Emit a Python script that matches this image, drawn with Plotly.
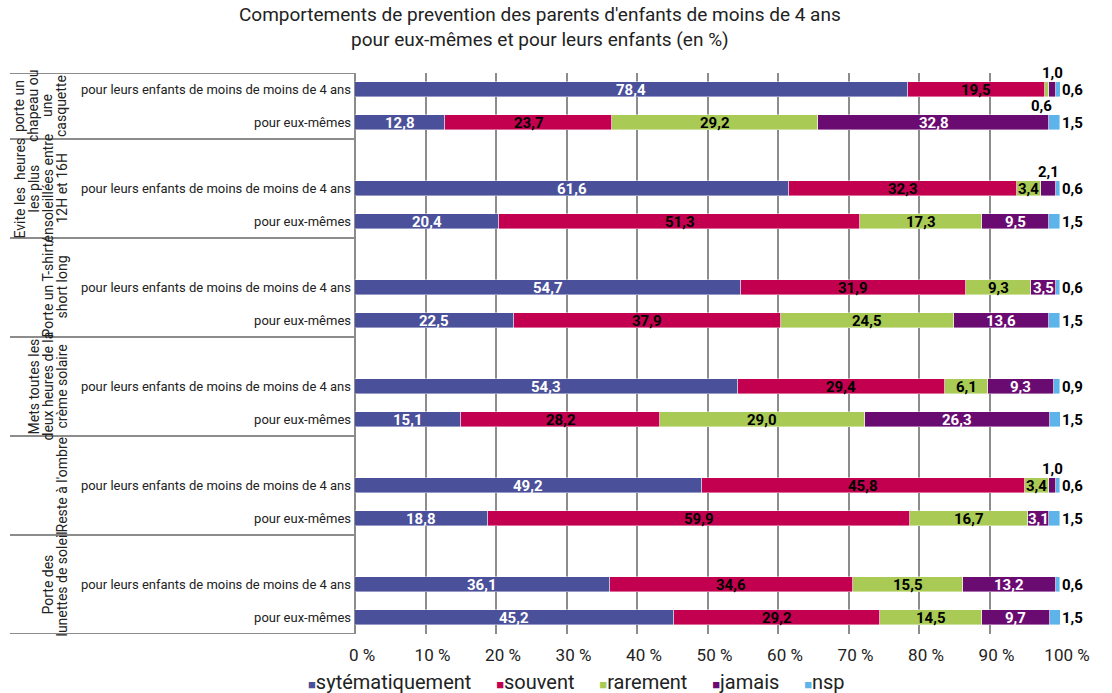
import plotly.graph_objects as go

# Behaviour groups (left, rotated) and the two rows inside each group
groups = [
    "porte un<br>chapeau ou<br>une<br>casquette",
    "Evite les  heures<br>les plus<br>ensoleillées entre<br>12H et 16H",
    "Porte un T-shirt/<br>short long",
    "Mets toutes les<br>deux heures de la<br>crème solaire",
    "Reste à l'ombre",
    "Porte des<br>lunettes de soleil",
]
row_labels = ["pour leurs enfants de moins de moins de 4 ans", "pour eux-mêmes"]

# Percentages, row order: (enfants, eux-mêmes) for each group
systematiquement = [78.4, 12.8, 61.6, 20.4, 54.7, 22.5, 54.3, 15.1, 49.2, 18.8, 36.1, 45.2]
souvent = [19.5, 23.7, 32.3, 51.3, 31.9, 37.9, 29.4, 28.2, 45.8, 59.9, 34.6, 29.2]
rarement = [0.6, 29.2, 3.4, 17.3, 9.3, 24.5, 6.1, 29.0, 3.4, 16.7, 15.5, 14.5]
jamais = [1.0, 32.8, 2.1, 9.5, 3.5, 13.6, 9.3, 26.3, 1.0, 3.1, 13.2, 9.7]
nsp = [0.6, 1.5, 0.6, 1.5, 0.6, 1.5, 0.9, 1.5, 0.6, 1.5, 0.6, 1.5]

series_names = ["sytématiquement", "souvent", "rarement", "jamais", "nsp"]
series_values = [systematiquement, souvent, rarement, jamais, nsp]
series_colors = ["#4A509A", "#C2004F", "#A9CB55", "#6A0B72", "#5DB4EA"]
label_colors = ["white", "black", "black", "white", "black"]

title_text = ("Comportements de prevention des parents d'enfants de moins de 4 ans<br>"
              "pour eux-mêmes et pour leurs enfants (en %)")

# Row slots: an empty slot separates consecutive groups
slots, tick_vals, tick_text, group_bounds, group_centers = [], [], [], [-0.5], []
pos = 0
for g in range(len(groups)):
    if g > 0:
        pos += 1
    for r in range(len(row_labels)):
        slots.append(pos)
        tick_vals.append(pos)
        tick_text.append(row_labels[r])
        pos += 1
    group_bounds.append(pos - 0.5)
    group_centers.append((group_bounds[-2] + group_bounds[-1]) / 2)

fig = go.Figure()
for name, vals, col in zip(series_names, series_values, series_colors):
    fig.add_trace(go.Bar(
        name=name, x=vals, y=slots, orientation="h", width=0.455, showlegend=False,
        marker=dict(color=col, line=dict(color="rgba(255,255,255,0.7)", width=0.6)),
    ))


def fmt(v):
    return f"{v:.1f}".replace(".", ",")


# Value labels: inside the segment, or above/below for very thin segments,
# and to the right of the bar for "nsp"
val_font = dict(family="Roboto", size=15, weight="bold")
cum = [0.0] * len(slots)
for si, (vals, tcol) in enumerate(zip(series_values, label_colors)):
    for i, v in enumerate(vals):
        start = cum[i]
        cum[i] += v
        kw = dict(x=start + v / 2, xanchor="center", yshift=0, xshift=0, color=tcol)
        if si == len(series_values) - 1:
            kw.update(x=min(cum[i], 100.0), xanchor="left", color="black", xshift=1)
        elif v < 2.5 and series_names[si] == "jamais":
            kw.update(yshift=17, color="black")
        elif v < 2.5:
            kw.update(yshift=-16, xshift=-6, color="black")
        fig.add_annotation(
            x=kw["x"], y=slots[i], xref="x", yref="y", text=fmt(v), showarrow=False,
            xanchor=kw["xanchor"], yanchor="middle", yshift=kw["yshift"], xshift=kw["xshift"],
            font=dict(val_font, color=kw["color"]), borderpad=0,
        )

# Group frame lines and rotated group names on the left
line_col = "#8C8C8C"
plot_left_px, plot_w_px = 355, 705
left_edge = -(plot_left_px - 10) / plot_w_px
for b in group_bounds:
    fig.add_shape(type="line", xref="paper", yref="y", x0=left_edge, x1=0, y0=b, y1=b,
                  line=dict(color=line_col, width=2))

# Rotated group names, one annotation per line for a tight line spacing
last_line_px, line_step_px = 61, 14
for gname, gc in zip(groups, group_centers):
    lines = gname.split("<br>")
    n = len(lines)
    for j, line in enumerate(lines):
        cx = last_line_px - (n - 1 - j) * line_step_px
        fig.add_annotation(
            text=line, xref="paper", yref="y", x=0, y=gc, xshift=-(plot_left_px - cx),
            xanchor="center", yanchor="middle", textangle=-90, showarrow=False,
            font=dict(family="Roboto", size=14, color="#222"),
        )

# Chart title
fig.add_annotation(
    text=title_text, xref="paper", yref="paper", x=(540 - plot_left_px) / plot_w_px, y=1,
    yshift=20, xanchor="center", yanchor="bottom", showarrow=False, align="center",
    font=dict(family="Roboto", size=19, color="#222"),
)

# Legend line below the axis
legend_text = "     ".join(
    f"<span style='color:{c};font-size:13px'>■</span>{n}" for n, c in zip(series_names, series_colors)
)
fig.add_annotation(
    text=legend_text, xref="paper", yref="paper", x=(576 - plot_left_px) / plot_w_px, y=0,
    yshift=-48, xanchor="center", yanchor="middle", showarrow=False,
    font=dict(family="Roboto", size=20, color="#222"),
)

fig.update_layout(
    barmode="stack",
    width=1112, height=693,
    margin=dict(l=plot_left_px, r=1112 - plot_left_px - plot_w_px, t=73, b=59),
    paper_bgcolor="white", plot_bgcolor="white",
    font=dict(family="Roboto", color="#222"),
    showlegend=False,
    xaxis=dict(
        range=[0, 100], dtick=10, tick0=0, ticksuffix=" %",
        showgrid=True, gridcolor=line_col, gridwidth=2,
        zeroline=True, zerolinecolor=line_col, zerolinewidth=2,
        showline=False, ticks="", tickfont=dict(size=17, color="#222"),
        ticklabelstandoff=9, ticklabelshift=7, fixedrange=True,
    ),
    yaxis=dict(
        range=[pos - 0.5, -0.5], tickvals=tick_vals, ticktext=tick_text,
        showgrid=False, zeroline=False, showline=False, ticks="",
        tickfont=dict(size=13, color="#222"), ticklabelstandoff=3,
    ),
    bargap=0,
)

fig.write_html("out.html")
